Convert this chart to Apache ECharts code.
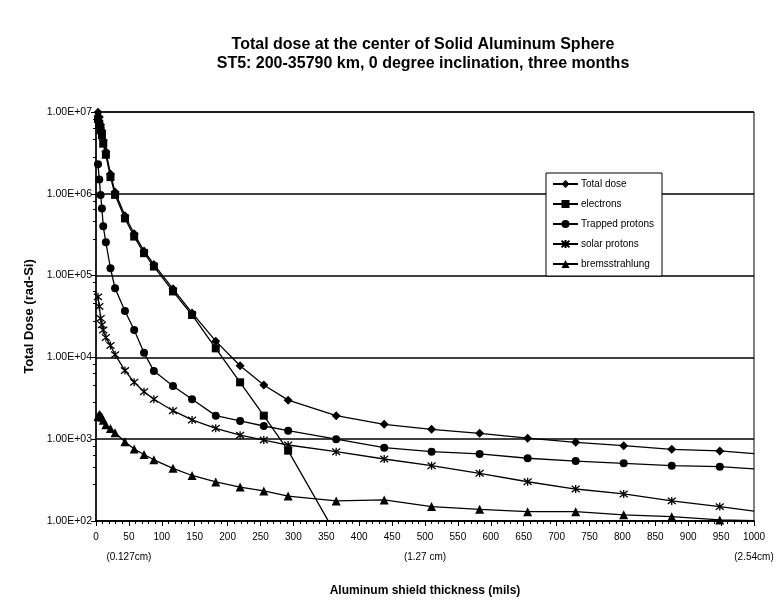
<!DOCTYPE html>
<html>
<head>
<meta charset="utf-8">
<script src="https://cdn.jsdelivr.net/npm/echarts@6/dist/echarts.min.js"></script>
<style>
  html, body { margin: 0; padding: 0; background: #fff; }
  #chart { width: 779px; height: 608px; }
</style>
</head>
<body>
<div id="chart"></div>
<script>
/* ---------------- DATA ---------------- */

// shield thickness, mils
const X_MILS = [
    3, 5, 7, 9, 11, 15, 22, 29, 44, 58, 73, 88, 117, 146, 182, 219,
    255, 292, 365, 438, 510, 583, 656, 729, 802, 875, 948, 1000,
];

// dose, rad-Si
const TOTAL_DOSE = [
    9.9e6, 8.7e6, 7.0e6, 5.9e6, 4.5e6, 3.3e6, 1.75e6, 1.05e6, 5.4e5, 3.25e5, 2.0e5, 1.37e5,
    6.9e4, 3.5e4, 1.58e4, 7.9e3, 4.6e3, 3.0e3, 1.94e3, 1.52e3, 1.32e3, 1.18e3, 1.03e3, 916,
    834, 753, 718, 665,
];
const ELECTRONS = [
    8.2e6, 7.2e6, 6.0e6, 5.2e6, 4.1e6, 3.0e6, 1.6e6, 9.7e5, 5.0e5, 3.0e5, 1.88e5, 1.29e5,
    6.4e4, 3.3e4, 1.29e4, 4.96e3, 1.94e3, 724, 68,
];
const TRAPPED_PROTONS = [
    2.3e6, 1.5e6, 9.7e5, 6.6e5, 4.0e5, 2.55e5, 1.23e5, 7.0e4, 3.7e4, 2.16e4, 1.14e4, 6.8e3,
    4.47e3, 3.08e3, 1.94e3, 1.67e3, 1.45e3, 1.27e3, 1.0e3, 787, 703, 660, 585, 541,
    507, 474, 461, 433,
];
const SOLAR_PROTONS = [
    5.5e4, 4.2e4, 3.0e4, 2.5e4, 2.16e4, 1.75e4, 1.4e4, 1.08e4, 6.9e3, 4.97e3, 3.8e3, 3.08e3,
    2.23e3, 1.72e3, 1.36e3, 1.12e3, 977, 849, 703, 573, 474, 383, 302, 246,
    214, 176, 150, 132,
];
const BREMSSTRAHLUNG = [
    1.9e3, 2.0e3, 1.95e3, 1.85e3, 1.7e3, 1.5e3, 1.35e3, 1.2e3, 930, 760, 650, 560,
    440, 360, 300, 260, 233, 202, 176, 181, 150, 139, 130, 130,
    119, 113, 103, 101,
];

const SERIES_NAMES = ["Total dose", "electrons", "Trapped protons", "solar protons", "bremsstrahlung"];

const Y_TICK_LABELS = ["1.00E+02", "1.00E+03", "1.00E+04", "1.00E+05", "1.00E+06", "1.00E+07"];
const X_SUB_TICKS = [50, 500, 1000];
const X_SUB_LABELS = ["(0.127cm)", "(1.27 cm)", "(2.54cm)"];

/* ---------------- CHART ---------------- */

const FONT = "Liberation Sans";
const ASTERISK = "path://M1,1L9,9M9,1L1,9M5,0L5,10";

const SERIES_STYLE = [
    { values: TOTAL_DOSE, symbol: "diamond", size: 9, border: 0 },
    { values: ELECTRONS, symbol: "rect", size: 8, border: 0 },
    { values: TRAPPED_PROTONS, symbol: "circle", size: 8, border: 0 },
    { values: SOLAR_PROTONS, symbol: ASTERISK, size: 8, border: 1.3 },
    { values: BREMSSTRAHLUNG, symbol: "triangle", size: 9, border: 0 },
];

const chart = echarts.init(document.getElementById("chart"));

const option = {
    backgroundColor: "#fff",
    animation: false,
    title: {
        text: "Total dose at the center of Solid Aluminum Sphere\nST5: 200-35790 km, 0 degree inclination, three months",
        left: 418,
        top: 30,
        textAlign: "center",
        textStyle: {
            fontFamily: FONT,
            fontSize: 16,
            fontWeight: "bold",
            color: "#000",
            lineHeight: 19,
        },
    },
    legend: {
        orient: "vertical",
        left: 546,
        top: 173,
        padding: [6, 8, 7, 6],
        itemGap: 10,
        itemWidth: 25,
        itemHeight: 10,
        backgroundColor: "#fff",
        borderColor: "#000",
        borderWidth: 1,
        borderRadius: 0,
        textStyle: { fontFamily: FONT, fontSize: 10, color: "#000", padding: [0, 0, 0, -2] },
        data: SERIES_NAMES,
    },
    grid: {
        left: 96,
        right: 25,
        top: 112,
        bottom: 87,
        show: true,
        borderColor: "#000",
        borderWidth: 1,
    },
    xAxis: {
        type: "value",
        min: 0,
        max: 1000,
        interval: 50,
        name: "Aluminum shield thickness (mils)",
        nameLocation: "middle",
        nameGap: 64,
        nameTextStyle: { fontFamily: FONT, fontSize: 12, fontWeight: "bold", color: "#000" },
        axisLine: { lineStyle: { color: "#000", width: 1.5 } },
        axisTick: { length: 5, lineStyle: { color: "#000" } },
        minorTick: { show: true, splitNumber: 5, length: 3, lineStyle: { color: "#000" } },
        splitLine: { show: false },
        axisLabel: {
            margin: 10,
            fontFamily: FONT,
            fontSize: 10,
            color: "#000",
            formatter: (v) => {
                const k = X_SUB_TICKS.indexOf(v);
                return k < 0 ? "{a|" + v + "}" : "{a|" + v + "}\n{b|" + X_SUB_LABELS[k] + "}";
            },
            rich: {
                a: { fontFamily: FONT, fontSize: 10, color: "#000", lineHeight: 12 },
                b: { fontFamily: FONT, fontSize: 10, color: "#000", lineHeight: 12, padding: [16, 0, 0, 0] },
            },
        },
    },
    yAxis: {
        type: "log",
        logBase: 10,
        min: 100,
        max: 1e7,
        name: "Total Dose (rad-Si)",
        nameLocation: "middle",
        nameGap: 50,
        nameTextStyle: { fontFamily: FONT, fontSize: 13, fontWeight: "bold", color: "#000" },
        axisLine: { show: true, lineStyle: { color: "#000", width: 1.5 } },
        axisTick: { show: true, length: 5, lineStyle: { color: "#000" } },
        minorTick: { show: true, splitNumber: 5, length: 3, lineStyle: { color: "#000" } },
        splitLine: { show: true, lineStyle: { color: "#000", width: 1.5 } },
        axisLabel: {
            margin: 4,
            fontFamily: FONT,
            fontSize: 10.5,
            color: "#000",
            formatter: (v) => Y_TICK_LABELS[Math.round(Math.log10(v)) - 2],
        },
    },
    series: SERIES_STYLE.map((s, i) => ({
        name: SERIES_NAMES[i],
        type: "line",
        symbol: s.symbol,
        symbolSize: s.size,
        clip: true,
        lineStyle: { color: "#000", width: 1.3 },
        itemStyle: { color: "#000", borderColor: "#000", borderWidth: s.border },
        data: s.values.map((v, j) => (
            X_MILS[j] === 1000 ? { value: [X_MILS[j], v], symbol: "none" } : [X_MILS[j], v]
        )),
    })),
};

chart.setOption(option);
</script>
</body>
</html>
